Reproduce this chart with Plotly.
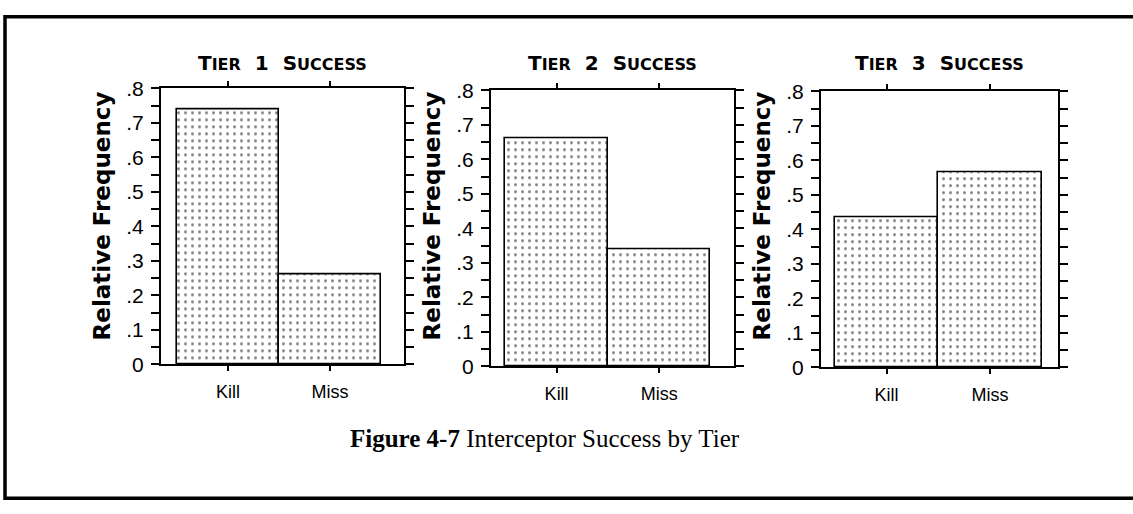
import plotly.graph_objects as go

# data
categories = ["Kill", "Miss"]
tier_names = ["1", "2", "3"]
tier1_freq = [0.74, 0.26]
tier2_freq = [0.66, 0.34]
tier3_freq = [0.435, 0.565]
ytick_vals = [0, 0.1, 0.2, 0.3, 0.4, 0.5, 0.6, 0.7, 0.8]
ytick_text = ["0", ".1", ".2", ".3", ".4", ".5", ".6", ".7", ".8"]

W, H = 1133, 514

# panel frames in pixels (left, right, top, bottom)
frames = [(161, 404, 80, 369), (491, 734, 82, 371), (821, 1058, 83, 372)]
xranges = [[-0.655, 1.725], [-0.64, 1.73], [-0.633, 1.657]]
ytitle_x = [102, 432, 762]

fig = go.Figure()

for i, freq in enumerate([tier1_freq, tier2_freq, tier3_freq]):
    n = "" if i == 0 else str(i + 1)
    fig.add_trace(go.Bar(
        x=categories, y=freq, width=1,
        xaxis="x" + n, yaxis="y" + n,
        marker=dict(color="white",
                    line=dict(color="black", width=1.6),
                    pattern=dict(shape=".", fgcolor="black", bgcolor="white",
                                 size=7, solidity=0.14)),
        showlegend=False, hoverinfo="skip"))

axis_common = dict(showline=True, linecolor="black", linewidth=2, mirror="allticks",
                   showgrid=False, zeroline=False, ticks="outside", tickcolor="black")

layout = dict(width=W, height=H, margin=dict(l=0, r=0, t=0, b=0),
              paper_bgcolor="white", plot_bgcolor="white", bargap=0)

for i, (l, r, t, b) in enumerate(frames):
    n = "" if i == 0 else str(i + 1)
    layout["xaxis" + n] = dict(
        axis_common, domain=[l / W, r / W], anchor="y" + n, range=xranges[i],
        ticklen=5, tickwidth=1.5, ticklabelstandoff=5,
        tickfont=dict(family="Liberation Sans", size=18, color="black"))
    layout["yaxis" + n] = dict(
        axis_common, domain=[1 - b / H, 1 - t / H], anchor="x" + n, range=[0, 0.8],
        tickvals=ytick_vals, ticktext=ytick_text, ticklen=8, tickwidth=1.5,
        ticklabelstandoff=3,
        minor=dict(dtick=0.05, ticks="outside", ticklen=8, tickwidth=1.5, tickcolor="black"),
        tickfont=dict(family="Liberation Sans", size=21, color="black"))

fig.update_layout(**layout)

small = "<span style='font-size:16px'>{}</span>"
for i, name in enumerate(tier_names):
    n = "" if i == 0 else str(i + 1)
    title = "T" + small.format("IER") + "\u00a0\u00a0" + name + "\u00a0\u00a0S" + small.format("UCCESS")
    fig.add_annotation(text=title, xref="x" + n + " domain", yref="paper",
                       x=0.5, y=1 - 53 / H, xanchor="center", yanchor="middle",
                       showarrow=False,
                       font=dict(family="DejaVu Sans", size=20, color="black", weight="bold"))
    fig.add_annotation(text="Relative Frequency", xref="paper", yref="paper",
                       x=ytitle_x[i] / W, y=1 - 214 / H, xanchor="center", yanchor="middle",
                       textangle=-90, showarrow=False,
                       font=dict(family="DejaVu Sans", size=23, color="black", weight="bold"))

# caption
fig.add_annotation(text="<b>Figure 4-7</b> Interceptor Success by Tier",
                   xref="paper", yref="paper", x=545 / W, y=1 - 447 / H,
                   xanchor="center", yanchor="middle", showarrow=False,
                   font=dict(family="Liberation Serif", size=25, color="black"))

# outer border of the figure box (right side runs off the page)
fig.add_shape(type="rect", xref="paper", yref="paper",
              x0=5 / W, x1=1.02, y0=1 - 509 / H, y1=1 - 5 / H,
              line=dict(color="black", width=3.5))

fig.write_html("out.html", config={"displayModeBar": False},
               post_script="document.body.style.margin='0';document.body.style.padding='0';")
